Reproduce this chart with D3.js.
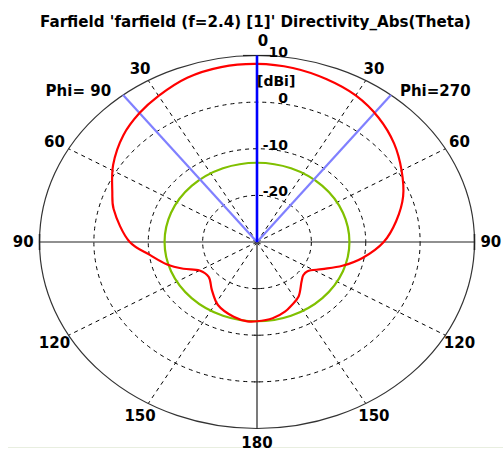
<!DOCTYPE html>
<html>
<head>
<meta charset="utf-8">
<script src="https://cdn.jsdelivr.net/npm/d3@7"></script>
<style>
  html, body { margin: 0; padding: 0; background: #ffffff; }
  svg { display: block; }
  text { font-family: "DejaVu Sans", "Liberation Sans", Arial, sans-serif; font-weight: bold; fill: #000; }
</style>
</head>
<body>
<svg id="chart" width="503" height="451"></svg>
<script>
// Directivity cut, theta in degrees measured from the main axis.
// Phi=270 half is drawn clockwise (right), Phi=90 half counter-clockwise (left).
const thetaPhi270 = [0, 10, 20, 30, 40, 50, 60, 70, 80, 90, 100, 108, 116, 124, 130, 136, 147, 155, 161, 170, 180];
const dirPhi270   = [8.2, 7.9, 7.2, 6.3, 4.8, 2.9, 0.7, -1.4, -4.0, -6.7, -10.3, -13.5, -16.7, -18.8, -18.9, -18.2, -16.0, -15.0, -14.2, -13.4, -13.0];
const thetaPhi90  = [0, 10, 20, 30, 38, 47, 58, 68, 75, 90, 98, 106, 113, 120, 130, 141, 152, 165, 174, 180];
const dirPhi90    = [8.2, 8.1, 7.5, 6.2, 5.1, 3.6, 1.2, -1.3, -2.7, -6.6, -10.1, -12.7, -15.3, -17.8, -18.4, -16.8, -14.7, -13.4, -12.9, -13.0];

const mainLobeDir = [0];          // main lobe direction, deg
const beamEdges   = [-38, 38];    // 3 dB angular width markers, deg
const sideLobeLevel = [-13.0];    // dBi

const radialTicks = [-20, -10, 0, 10];
const angleTicks  = [0, 30, 60, 90, 120, 150, 180];
const rangeDb = [-30, 10];

const titleText = "Farfield 'farfield (f=2.4) [1]' Directivity_Abs(Theta)";

const svg = d3.select("#chart");
const cx = 257, cy = 242, rx = 217.5, ry = 186.5;

const r = d3.scaleLinear().domain(rangeDb).range([0, 1]).clamp(true);
// signed angle: positive = clockwise (right half), negative = left half
const pt = (deg, db) => {
  const a = deg * Math.PI / 180, k = r(db);
  return [cx + rx * k * Math.sin(a), cy - ry * k * Math.cos(a)];
};

// title
svg.append("text").attr("x", 40).attr("y", 27)
  .attr("textLength", 431).attr("lengthAdjust", "spacingAndGlyphs")
  .style("font-size", "15.5px").text(titleText);

// bottom frame hairline
svg.append("line").attr("x1", 8).attr("x2", 503).attr("y1", 447.5).attr("y2", 447.5)
  .attr("stroke", "#e8eee0").attr("stroke-width", 1);

const grid = svg.append("g");

// dashed rings
radialTicks.filter(v => v < rangeDb[1]).forEach(v => {
  grid.append("ellipse").attr("cx", cx).attr("cy", cy)
    .attr("rx", rx * r(v)).attr("ry", ry * r(v))
    .attr("fill", "none").attr("stroke", "#000").attr("stroke-width", 1)
    .attr("stroke-dasharray", "4,4");
});

// dashed spokes
[30, 60, 120, 150].forEach(d => {
  [d, -d].forEach(s => {
    const p = pt(s, rangeDb[1]);
    grid.append("line").attr("x1", cx).attr("y1", cy).attr("x2", p[0]).attr("y2", p[1])
      .attr("stroke", "#000").attr("stroke-width", 1).attr("stroke-dasharray", "4,4");
  });
});

// outer ring
grid.append("ellipse").attr("cx", cx).attr("cy", cy).attr("rx", rx).attr("ry", ry)
  .attr("fill", "none").attr("stroke", "#333").attr("stroke-width", 1.2);

// solid axes
grid.append("line").attr("x1", cx - rx).attr("x2", cx + rx).attr("y1", cy).attr("y2", cy)
  .attr("stroke", "#222").attr("stroke-width", 1.2);
grid.append("line").attr("x1", cx).attr("x2", cx).attr("y1", cy).attr("y2", cy + ry)
  .attr("stroke", "#222").attr("stroke-width", 1.2);
// ticks on axes at ring positions
radialTicks.filter(v => v < rangeDb[1]).forEach(v => {
  const yb = cy + ry * r(v);
  grid.append("line").attr("x1", cx - 3).attr("x2", cx + 3).attr("y1", yb).attr("y2", yb)
    .attr("stroke", "#222").attr("stroke-width", 1);
});
[-1, 1].forEach(s => {
  grid.append("line").attr("x1", cx + s * rx).attr("x2", cx + s * rx).attr("y1", cy - 8).attr("y2", cy + 8)
    .attr("stroke", "#222").attr("stroke-width", 1.5);
});
grid.append("line").attr("x1", cx - 14).attr("x2", cx + 14).attr("y1", cy - ry).attr("y2", cy - ry)
  .attr("stroke", "#222").attr("stroke-width", 1.2);

// side lobe level circle
svg.append("ellipse").attr("cx", cx).attr("cy", cy)
  .attr("rx", rx * r(sideLobeLevel[0])).attr("ry", ry * r(sideLobeLevel[0]))
  .attr("fill", "none").attr("stroke", "#80c000").attr("stroke-width", 2.2);

// beam width markers
beamEdges.forEach(d => {
  const p = pt(d, rangeDb[1]);
  svg.append("line").attr("x1", cx).attr("y1", cy).attr("x2", p[0]).attr("y2", p[1])
    .attr("stroke", "#8080ff").attr("stroke-width", 2.2);
});

// pattern curve
const pts = [];
thetaPhi270.forEach((t, i) => pts.push(pt(t, dirPhi270[i])));
for (let i = thetaPhi90.length - 2; i >= 1; i--) pts.push(pt(-thetaPhi90[i], dirPhi90[i]));
svg.append("path").attr("d", d3.line().curve(d3.curveCatmullRomClosed.alpha(0.5))(pts))
  .attr("fill", "none").attr("stroke", "#ff0000").attr("stroke-width", 2.2);

// main lobe direction
mainLobeDir.forEach(d => {
  const p = pt(d, rangeDb[1]);
  svg.append("line").attr("x1", cx).attr("y1", cy).attr("x2", p[0]).attr("y2", p[1])
    .attr("stroke", "#0000ff").attr("stroke-width", 2.6);
});

// radial labels
radialTicks.forEach(v => {
  svg.append("text").attr("x", cx + 31).attr("y", cy - ry * r(v) + 1)
    .attr("text-anchor", "end").style("font-size", "14px").text(v);
});
svg.append("text").attr("x", cx).attr("y", 86).style("font-size", "14px").text("[dBi]");

// angle labels
angleTicks.forEach(d => {
  const sides = (d === 0 || d === 180) ? [d] : [d, -d];
  sides.forEach(s => {
    const a = s * Math.PI / 180, k = 1.075;
    let x = cx + rx * k * Math.sin(a), y = cy - ry * k * Math.cos(a);
    if (d === 0) { x += 6; y -= 1; }
    svg.append("text").attr("x", x).attr("y", y).attr("dy", "0.36em")
      .attr("text-anchor", "middle").style("font-size", "15px").text(d);
  });
});

// phi labels at beam marker ends
const pl = pt(beamEdges[0], rangeDb[1]), pr = pt(beamEdges[1], rangeDb[1]);
svg.append("text").attr("x", pl[0] - 12).attr("y", pl[1] - 4).attr("dy", "0.36em")
  .attr("text-anchor", "end").style("font-size", "15px").text("Phi= 90");
svg.append("text").attr("x", pr[0] + 9).attr("y", pr[1] - 4).attr("dy", "0.36em")
  .attr("text-anchor", "start").style("font-size", "15px").text("Phi=270");
</script>
</body>
</html>
